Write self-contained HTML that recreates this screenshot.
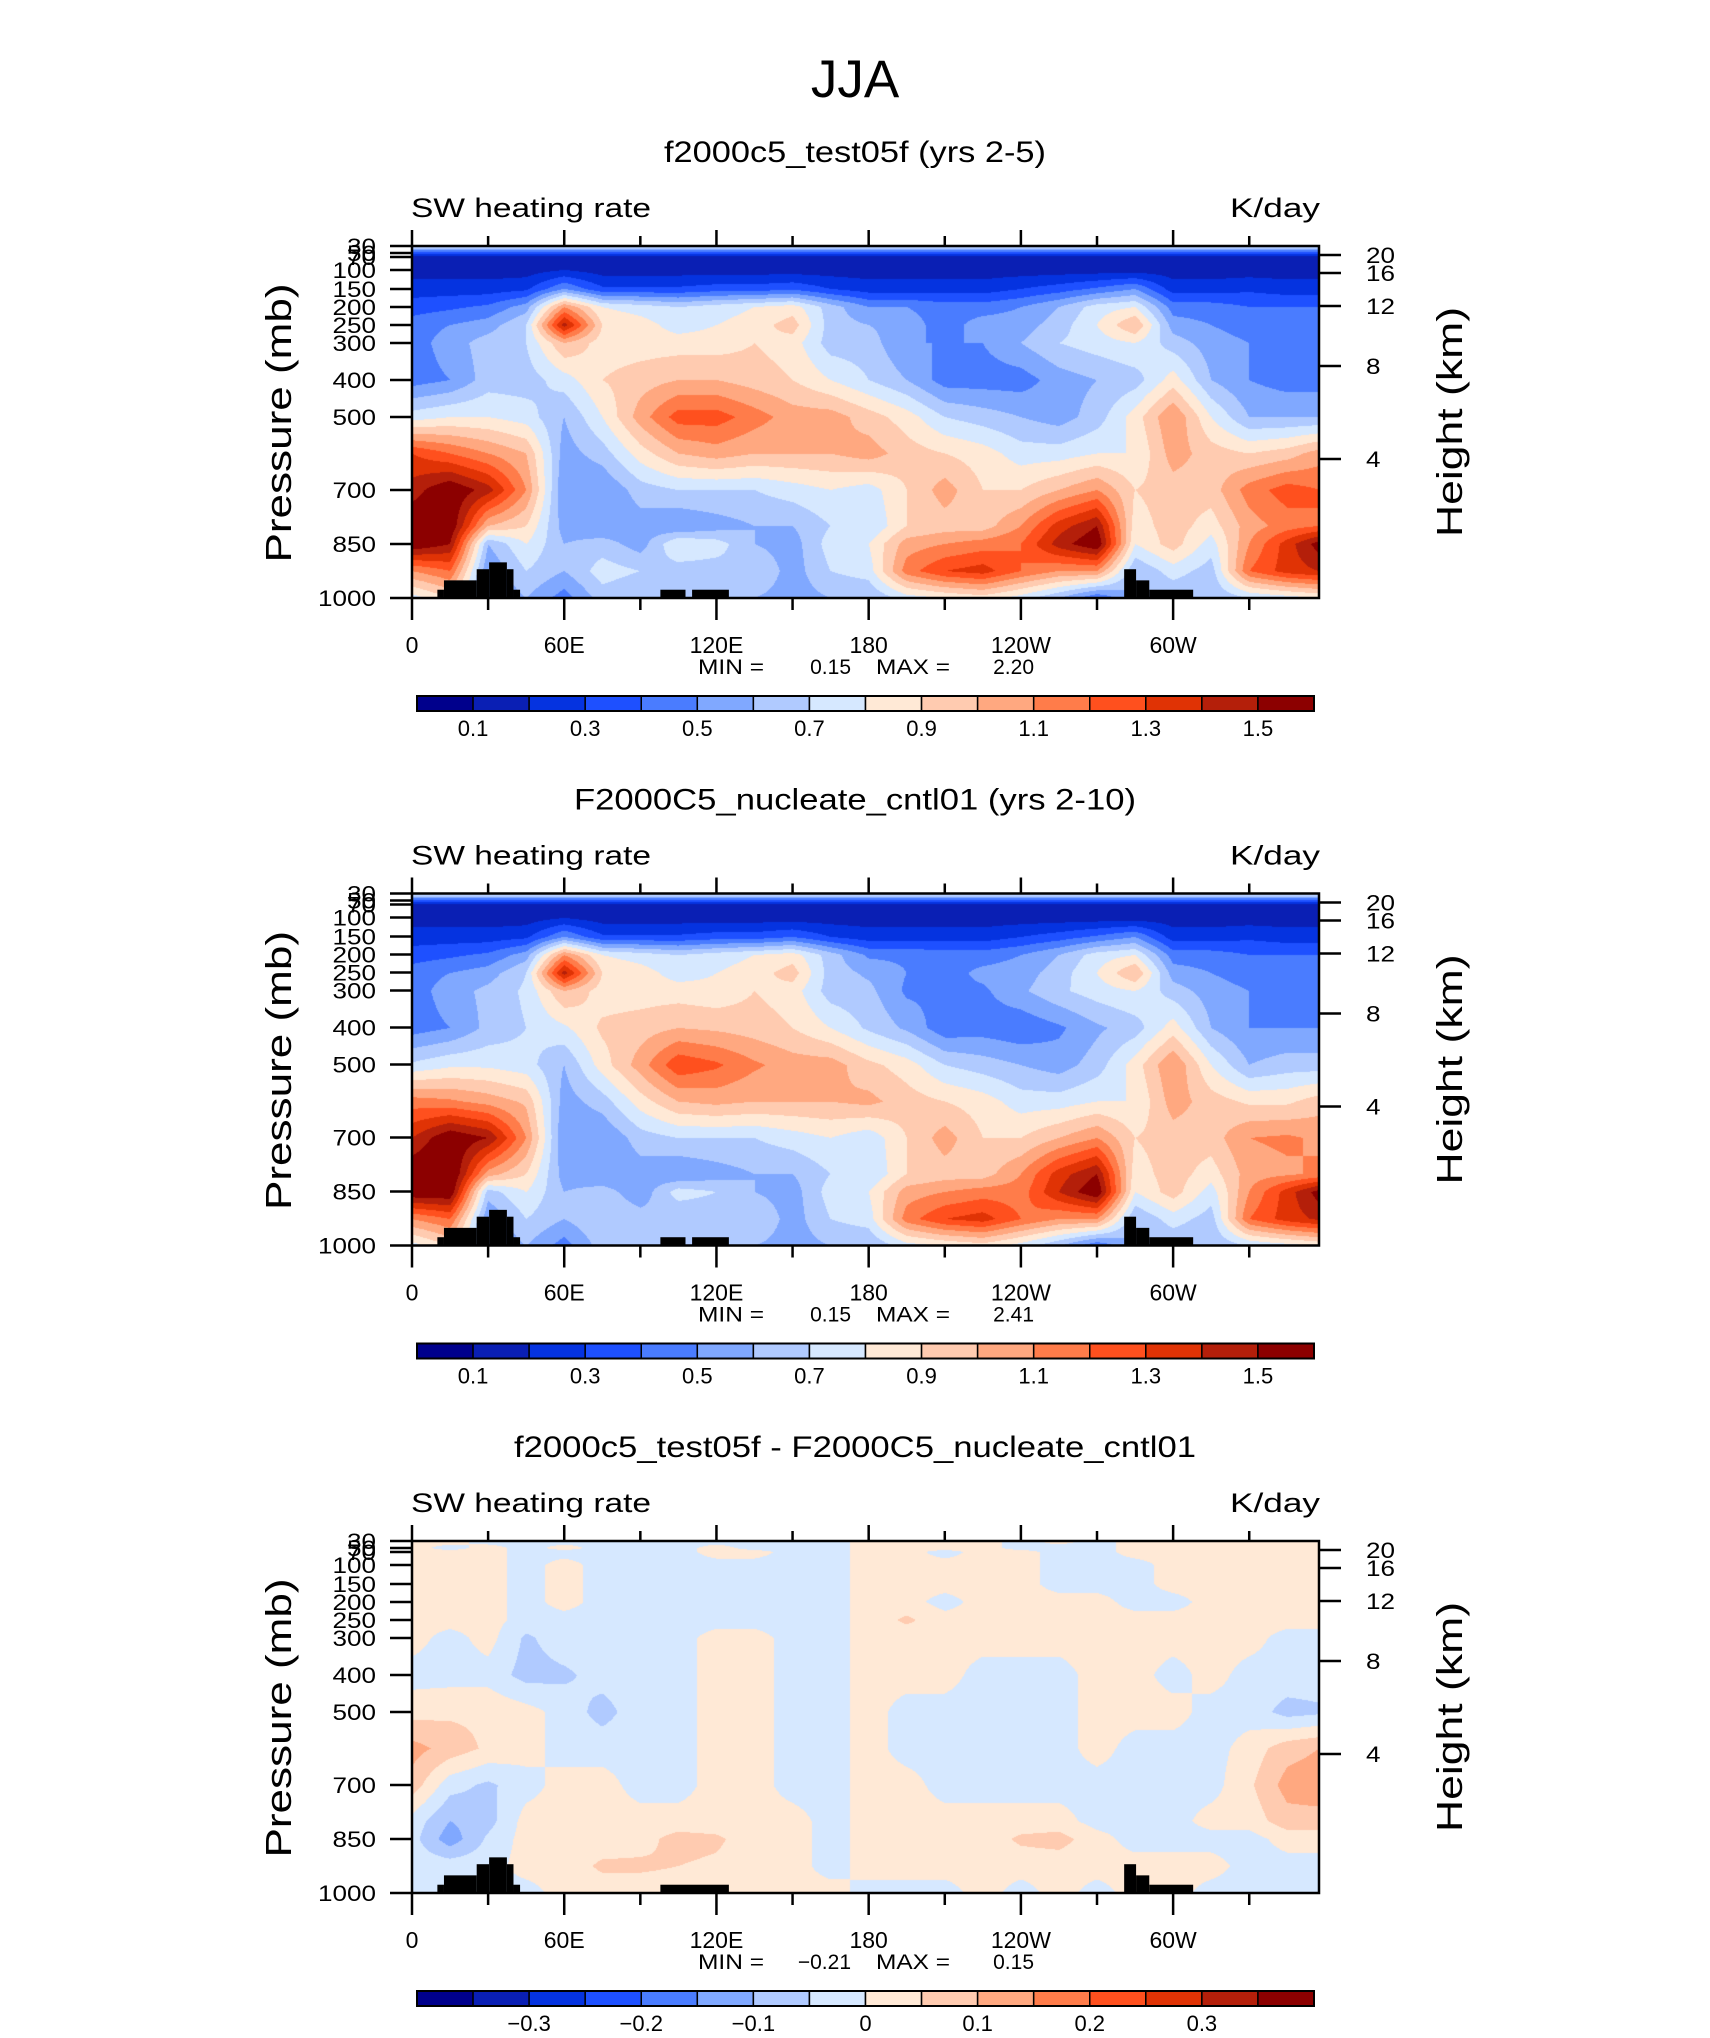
<!DOCTYPE html>
<html><head><meta charset="utf-8">
<style>
html,body{margin:0;padding:0;background:#fff;}
#wrap{position:relative;width:1710px;height:2038px;overflow:hidden;background:#fff;}
canvas{position:absolute;}
svg{position:absolute;left:0;top:0;}
text{font-family:"Liberation Sans",sans-serif;fill:#000;}
</style></head>
<body>
<div id="wrap">
<canvas id="c0"></canvas>
<canvas id="c1"></canvas>
<canvas id="c2"></canvas>
<svg id="svg" width="1710" height="2038"></svg>
</div>
<script>
// ---- data ----
const PRESSURE = [30,50,70,100,150,200,250,300,400,500,600,700,800,850,925,1000];
const LONS = [0,15,30,45,60,75,90,105,120,135,150,165,180,195,210,225,240,255,270,285,300,315,330,345,357.5];
// columns: one per longitude, values at PRESSURE levels (K/day)
const test05fCols = [
[.75,.35,.15,.15,.25,.35,.45,.45,.45,.75,1.3,1.45,1.6,1.6,1.1,.75],
[.75,.35,.15,.15,.25,.38,.5,.55,.5,.8,1.2,1.6,1.6,1.5,1.2,.9],
[.75,.35,.15,.15,.25,.42,.55,.65,.65,.8,1.1,1.45,1.0,.6,.5,.5],
[.75,.35,.15,.15,.28,.55,.7,.7,.65,.75,1.0,1.1,.9,.8,.7,.6],
[.75,.35,.15,.2,.5,1.1,1.45,1.0,.75,.6,.55,.5,.55,.6,.6,.45],
[.75,.35,.15,.15,.32,.8,.9,.85,.9,.8,.65,.5,.5,.65,.75,.65],
[.75,.35,.15,.15,.32,.75,.85,.85,.95,1.05,.85,.65,.55,.55,.7,.6],
[.75,.35,.15,.15,.32,.7,.75,.85,1.0,1.25,1.0,.7,.5,.8,.65,.6],
[.75,.35,.15,.15,.35,.75,.8,.85,1.0,1.25,1.05,.7,.55,.75,.65,.6],
[.75,.35,.15,.15,.35,.8,.85,.9,.95,1.15,1.0,.7,.6,.6,.7,.6],
[.75,.35,.15,.15,.38,.85,.95,.85,.9,1.05,1.0,.75,.6,.55,.55,.55],
[.75,.35,.15,.15,.3,.65,.65,.65,.8,1.05,1.0,.8,.7,.75,.7,.6],
[.75,.35,.15,.15,.25,.5,.6,.65,.7,.95,1.05,.75,.7,.8,.75,.6],
[.75,.35,.15,.15,.25,.5,.55,.5,.6,.85,.95,.9,.9,1.05,1.15,.75],
[.75,.35,.15,.15,.25,.45,.45,.5,.45,.7,.9,1.05,.95,1.1,1.3,.8],
[.75,.35,.15,.15,.25,.45,.55,.5,.45,.65,.85,.9,.95,1.15,1.35,.85],
[.75,.35,.15,.15,.3,.5,.55,.6,.45,.6,.75,.9,1.1,1.2,1.2,.75],
[.75,.35,.15,.15,.35,.6,.65,.7,.55,.55,.75,1.0,1.35,1.45,1.1,.6],
[.75,.35,.15,.15,.42,.75,.8,.75,.6,.65,.8,1.1,1.5,1.6,1.1,.4],
[.75,.35,.15,.15,.5,.8,1.0,.8,.65,.85,.8,.9,.85,.8,.6,.6],
[.75,.35,.15,.15,.25,.45,.55,.65,.85,1.1,1.05,.95,.95,.95,.75,.6],
[.75,.35,.15,.15,.25,.45,.5,.55,.6,.8,.95,.95,.85,.75,.65,.6],
[.75,.35,.15,.15,.28,.4,.45,.5,.5,.6,.9,1.15,1.05,1.1,1.2,.7],
[.75,.35,.15,.15,.25,.4,.45,.45,.45,.6,.95,1.25,1.15,1.35,1.35,.75],
[.75,.35,.15,.15,.25,.4,.45,.45,.45,.6,1.05,1.2,1.2,1.55,1.4,.8]
];
const cntl01Cols = [
[.75,.35,.15,.15,.25,.35,.45,.45,.45,.72,1.15,1.4,1.6,1.6,1.1,.75],
[.75,.35,.15,.15,.25,.38,.5,.55,.5,.78,1.12,1.6,1.65,1.6,1.2,.9],
[.75,.35,.15,.15,.25,.42,.55,.63,.63,.78,1.06,1.5,1.05,.65,.5,.5],
[.75,.35,.15,.15,.28,.55,.7,.72,.7,.74,.98,1.1,.9,.8,.7,.6],
[.75,.35,.15,.2,.5,1.1,1.45,1.0,.78,.6,.55,.5,.55,.6,.6,.45],
[.75,.35,.15,.15,.32,.8,.9,.85,.92,.85,.65,.5,.5,.65,.7,.65],
[.75,.35,.15,.15,.32,.75,.85,.85,.95,1.05,.85,.65,.55,.53,.65,.6],
[.75,.35,.15,.15,.32,.7,.75,.85,1.0,1.28,1.0,.7,.5,.75,.6,.6],
[.75,.35,.15,.15,.35,.75,.8,.83,.98,1.22,1.03,.7,.55,.7,.62,.6],
[.75,.35,.15,.15,.35,.8,.85,.9,.95,1.12,1.0,.7,.6,.6,.7,.6],
[.75,.35,.15,.15,.4,.85,.95,.85,.9,1.05,1.0,.75,.6,.55,.55,.55],
[.75,.35,.15,.15,.3,.65,.65,.65,.8,1.05,1.0,.8,.7,.75,.7,.6],
[.75,.35,.15,.15,.25,.48,.58,.63,.68,.93,1.03,.73,.7,.8,.75,.6],
[.75,.35,.15,.15,.25,.48,.5,.48,.58,.85,.95,.9,.9,1.05,1.15,.75],
[.75,.35,.15,.15,.25,.45,.45,.48,.43,.7,.9,1.05,.95,1.1,1.3,.8],
[.75,.35,.15,.15,.25,.45,.53,.48,.45,.65,.85,.9,.95,1.15,1.35,.85],
[.75,.35,.15,.15,.3,.5,.55,.58,.42,.6,.75,.9,1.1,1.15,1.2,.75],
[.75,.35,.15,.15,.35,.6,.65,.68,.48,.55,.75,1.0,1.35,1.4,1.1,.6],
[.75,.35,.15,.15,.42,.75,.8,.75,.58,.65,.8,1.1,1.5,1.6,1.1,.4],
[.75,.35,.15,.15,.5,.8,1.0,.8,.65,.85,.8,.9,.85,.8,.6,.6],
[.75,.35,.15,.15,.25,.45,.55,.65,.85,1.1,1.05,.95,.95,.95,.75,.6],
[.75,.35,.15,.15,.25,.45,.5,.55,.6,.8,.95,.95,.85,.75,.65,.6],
[.75,.35,.15,.15,.28,.4,.45,.5,.5,.6,.88,1.1,1.05,1.1,1.2,.7],
[.75,.35,.15,.15,.25,.4,.45,.45,.5,.65,.88,1.12,1.08,1.35,1.35,.75],
[.75,.35,.15,.15,.25,.4,.45,.45,.5,.65,.95,1.08,1.12,1.55,1.42,.8]
];
const diffCols = [
[.02,.02,.02,.02,.02,.02,.02,.02,-.02,.03,.12,.08,-.02,-.03,-.02,-.02],
[.02,-.02,.02,.02,.02,.02,.02,-.02,-.02,.04,.08,-.03,-.1,-.13,-.02,-.02],
[-.02,.02,.02,.02,.02,.02,.02,.02,-.02,.04,.04,-.06,-.07,-.04,-.02,-.02],
[-.02,-.02,-.02,-.02,-.02,-.02,-.02,-.06,-.07,.02,.02,-.02,.02,.02,.02,-.02],
[-.02,.02,-.02,.02,.02,.02,-.02,-.02,-.06,-.02,-.02,.02,.02,.02,.02,.02],
[-.02,-.02,-.02,-.02,-.02,-.02,-.02,-.02,-.03,-.07,-.02,.02,.02,.02,.06,.02],
[-.02,-.02,-.02,-.02,-.02,-.02,-.02,-.02,-.02,-.02,-.02,-.02,.02,.03,.06,.02],
[-.02,-.02,-.02,-.02,-.02,-.02,-.02,-.02,-.02,-.02,-.02,-.02,.02,.07,.05,.02],
[-.02,.02,.02,-.02,-.02,-.02,-.02,.02,.02,.02,.02,.02,.02,.06,.04,.02],
[-.02,-.02,.02,-.02,-.02,-.02,-.02,.02,.02,.02,.02,.02,.02,.02,.02,.02],
[-.02,-.02,-.02,-.02,-.03,-.03,-.02,-.02,-.02,-.02,-.02,-.02,.02,.02,.02,.02],
[-.02,-.02,-.02,-.02,-.02,-.02,-.02,-.02,-.02,-.02,-.02,-.02,-.02,-.02,-.02,.02],
[.02,.02,.02,.02,.02,.02,.02,.02,.02,.02,.02,.02,.02,.02,.02,-.02],
[.02,.02,.02,.02,.02,.02,.06,.02,.02,-.02,-.02,.02,.02,.02,.02,-.02],
[.02,.02,-.02,.02,.02,-.02,.02,.02,.02,-.02,-.02,-.02,.02,.02,.02,-.02],
[.02,.02,.02,.02,.02,.02,.02,.02,-.02,-.02,-.02,-.02,.02,.02,.02,.02],
[-.02,-.02,.02,.02,.02,.02,.02,.02,-.02,-.02,-.02,-.02,.02,.06,.02,-.02],
[.02,-.02,-.02,-.02,-.02,.02,.02,.02,-.02,-.02,-.02,-.02,.02,.07,.02,.02],
[-.02,-.02,-.02,-.02,-.02,.02,.02,.02,.02,.02,.02,-.02,-.02,.02,.02,-.02],
[.02,.02,.02,-.02,-.02,-.02,.02,.02,.02,.02,-.02,-.02,-.02,-.02,.02,.02],
[.02,.02,.02,.02,.02,-.02,.02,.02,-.02,.02,-.02,-.02,-.02,-.02,.02,.02],
[.02,.02,.02,.02,.02,.02,.02,.02,.02,-.02,-.02,-.02,.02,-.02,.02,-.02],
[.02,.02,.02,.02,.02,.02,.02,.02,-.02,-.02,.02,.04,.02,-.02,-.02,-.02],
[.02,.02,.02,.02,.02,.02,.02,-.02,-.02,-.07,.08,.12,.08,.02,-.02,-.02],
[.02,.02,.02,.02,.02,.02,.02,-.02,-.02,-.06,.1,.13,.08,.02,-.02,-.02]
];
// topography blocks: [lonStart, lonEnd, surface pressure top]
const topoA = [[10,12.6,977],[12.6,25.5,951],[25.5,30.4,920],[30.4,37.4,901],[37.4,40,920],[40,42.6,977],[97.9,107.8,977],[110.4,124.9,977],[280.7,285.4,920],[285.4,290.6,951],[290.6,307.9,977]];
const topoB = [[10,12.6,977],[12.6,25.5,951],[25.5,30.4,920],[30.4,37.4,901],[37.4,40,920],[40,42.6,977],[97.9,124.9,977],[280.7,285.4,920],[285.4,290.6,951],[290.6,307.9,977]];
const levelsAbs = [0.1,0.2,0.3,0.4,0.5,0.6,0.7,0.8,0.9,1.0,1.1,1.2,1.3,1.4,1.5];
const levelsDiff = [-0.35,-0.3,-0.25,-0.2,-0.15,-0.1,-0.05,0,0.05,0.1,0.15,0.2,0.25,0.3,0.35];
const cbLabelsAbs = ["0.1","0.3","0.5","0.7","0.9","1.1","1.3","1.5"];
const cbLabelsDiff = ["\u22120.3","\u22120.2","\u22120.1","0","0.1","0.2","0.3"];
const xTickLabels = ["0","60E","120E","180","120W","60W"];
const xTickLons = [0,60,120,180,240,300];
const pTickVals = [30,50,70,100,150,200,250,300,400,500,700,850,1000];
const hTickVals = [20,16,12,8,4];
const titles = ["f2000c5_test05f (yrs 2-5)","F2000C5_nucleate_cntl01 (yrs 2-10)","f2000c5_test05f - F2000C5_nucleate_cntl01"];
const minVals = ["0.15","0.15","\u22120.21"];
const maxVals = ["2.20","2.41","0.15"];

// ---- layout / axes ----
const PAL = ["#00008c","#0a1fb4","#0533e0","#1e50ff","#4a7cff","#80a8ff","#b0caff","#d6e8ff","#ffe9d6","#ffcbb0","#ffa880","#ff7c4a","#ff501e","#e03305","#b41f0a","#8c0000"];
const X0 = 412, X1 = 1319, W = X1 - X0, H = 352, LONMAX = 357.5;
const PANEL_TOPS = [246, 893.5, 1541];
const AX_P = [30,50,70,100,150,200,250,300,400,500,700,850,1000];
const AX_Y = [0,7,11,24,43,61,79,97,134,171,244,298,352];
const H_Y = {20:9,16:27,12:60,8:120,4:213};
function xOf(lon){ return X0 + lon / LONMAX * W; }
function yOf(p){
  for (let i=0;i<AX_P.length-1;i++){
    if (p<=AX_P[i+1]){ const t=(p-AX_P[i])/(AX_P[i+1]-AX_P[i]); return AX_Y[i]+t*(AX_Y[i+1]-AX_Y[i]); }
  }
  return H;
}
function colorIndex(v, lev){ let k=0; while(k<lev.length && v>=lev[k]-1e-9) k++; return k; }
function hex(c){ return [parseInt(c.substr(1,2),16),parseInt(c.substr(3,2),16),parseInt(c.substr(5,2),16)]; }
const PALRGB = PAL.map(hex);

function drawField(canvasId, cols, lev, top){
  const cv = document.getElementById(canvasId);
  cv.width = W; cv.height = Math.round(H);
  cv.style.left = X0+'px'; cv.style.top = top+'px';
  const ctx = cv.getContext('2d');
  const img = ctx.createImageData(cv.width, cv.height);
  const rowY = PRESSURE.map(yOf);
  const lonPx = LONS.map(l => l/LONMAX*W);
  for (let py=0; py<cv.height; py++){
    const yy = py+0.5;
    let i=0; while(i<rowY.length-2 && yy>rowY[i+1]) i++;
    let t=(yy-rowY[i])/(rowY[i+1]-rowY[i]); t=Math.max(0,Math.min(1,t));
    for (let px=0; px<cv.width; px++){
      const xx = px+0.5;
      let j=0; while(j<lonPx.length-2 && xx>lonPx[j+1]) j++;
      let s=(xx-lonPx[j])/(lonPx[j+1]-lonPx[j]); s=Math.max(0,Math.min(1,s));
      const a=cols[j][i], b=cols[j+1][i], c=cols[j][i+1], d=cols[j+1][i+1];
      const v=(a*(1-s)+b*s)*(1-t)+(c*(1-s)+d*s)*t;
      const rgb = PALRGB[colorIndex(v, lev)];
      const o=(py*cv.width+px)*4;
      img.data[o]=rgb[0]; img.data[o+1]=rgb[1]; img.data[o+2]=rgb[2]; img.data[o+3]=255;
    }
  }
  ctx.putImageData(img,0,0);
}

const NS = "http://www.w3.org/2000/svg";
const svg = document.getElementById('svg');
function el(tag, attrs, parent){
  const e = document.createElementNS(NS, tag);
  for (const k in attrs) e.setAttribute(k, attrs[k]);
  (parent||svg).appendChild(e);
  return e;
}
function txt(str, attrs, parent){ const e = el('text', attrs, parent); e.textContent = str; return e; }

// main title
const mt = txt("JJA", {x:855, y:97, 'font-size':53, 'text-anchor':'middle', fill:'#111'});



const fields = [test05fCols, cntl01Cols, diffCols];
const topos = [topoA, topoA, topoB];
const levs = [levelsAbs, levelsAbs, levelsDiff];
const cbl = [cbLabelsAbs, cbLabelsAbs, cbLabelsDiff];
const cbLabelStart = [1, 1, 2];
const titleW = [382, 562, 682];

for (let k=0;k<3;k++){
  const top = PANEL_TOPS[k];
  const off = top - 246;
  drawField('c'+k, fields[k], levs[k], top);
  const g = el('g', {});
  
  
  const tt = txt(titles[k], {x:855, y:162+off, 'font-size':30, 'text-anchor':'middle', textLength:titleW[k], lengthAdjust:'spacingAndGlyphs'}, g);
  
  
  const lt = txt("SW heating rate", {x:411, y:217+off, 'font-size':27, textLength:240, lengthAdjust:'spacingAndGlyphs'}, g);
  
  
  const ut = txt("K/day", {x:1320, y:217+off, 'font-size':27, 'text-anchor':'end', textLength:90, lengthAdjust:'spacingAndGlyphs'}, g);
  
  
  for (const tb of topos[k]){
    const r = el('rect', {x:xOf(tb[0]), y:top+yOf(tb[2]), width:xOf(tb[1])-xOf(tb[0]), height:H-yOf(tb[2]), fill:'#000'}, g);
    
    
  }
  const fr = el('rect', {x:X0, y:top, width:W, height:H, fill:'none', stroke:'#000', 'stroke-width':2.5}, g);
  
  
  for (let lon=0; lon<=330; lon+=30){
    const major = lon%60===0;
    const x = xOf(lon);
    el('line',{x1:x,y1:top,x2:x,y2:top-(major?16:10),stroke:'#000','stroke-width':2.5},g);
    el('line',{x1:x,y1:top+H,x2:x,y2:top+H+(major?22:12),stroke:'#000','stroke-width':2.5},g);
  }
  for (let i=0;i<xTickLabels.length;i++){
    const xl = txt(xTickLabels[i], {x:xOf(xTickLons[i]), y:top+H+55, 'font-size':23, 'text-anchor':'middle'}, g);
    
    
  }
  for (const p of pTickVals){
    const y = top+yOf(p);
    el('line',{x1:X0-22,y1:y,x2:X0,y2:y,stroke:'#000','stroke-width':2.5},g);
    const s = String(p);
    const pl = txt(s,{x:376,y:y+8,'font-size':22,'text-anchor':'end',textLength:s.length*14.5,lengthAdjust:'spacingAndGlyphs'},g);
    
    
  }
  for (const h of hTickVals){
    const y = top+H_Y[h];
    el('line',{x1:X1,y1:y,x2:X1+22,y2:y,stroke:'#000','stroke-width':2.5},g);
    const s = String(h);
    const hl = txt(s,{x:1366,y:y+8,'font-size':22,textLength:s.length*14.5,lengthAdjust:'spacingAndGlyphs'},g);
    
    
  }
  const ya = txt("Pressure (mb)",{x:0,y:0,'font-size':36,'text-anchor':'middle',textLength:279,lengthAdjust:'spacingAndGlyphs',transform:`translate(291,${423+off}) rotate(-90)`},g);
  
  
  const ya2 = txt("Height (km)",{x:0,y:0,'font-size':36,'text-anchor':'middle',textLength:230,lengthAdjust:'spacingAndGlyphs',transform:`translate(1462,${422+off}) rotate(-90)`},g);
  
  
  const m1 = txt("MIN =",{x:698,y:674+off,'font-size':21,textLength:66,lengthAdjust:'spacingAndGlyphs'},g);
  
  
  const m2 = txt(minVals[k],{x:851,y:674+off,'font-size':21,'text-anchor':'end'},g);
  
  
  const m3 = txt("MAX =",{x:876,y:674+off,'font-size':21,textLength:74,lengthAdjust:'spacingAndGlyphs'},g);
  
  
  const m4 = txt(maxVals[k],{x:1034,y:674+off,'font-size':21,'text-anchor':'end'},g);
  
  
  const cb = el('g',{},g);
  
  
  const cbx=417, cbw=897/16, cby=696+off;
  for (let i=0;i<16;i++){
    const r = el('rect',{x:cbx+i*cbw,y:cby,width:cbw,height:15,fill:PAL[i],stroke:'#000','stroke-width':1.5},cb);
    
    
  }
  el('rect',{x:cbx,y:cby,width:897,height:15,fill:'none',stroke:'#000','stroke-width':2},cb);
  for (let i=0;i<cbl[k].length;i++){
    const b = cbLabelStart[k]+2*i;
    const cl = txt(cbl[k][i],{x:cbx+b*cbw,y:cby+40,'font-size':22,'text-anchor':'middle'},cb);
    
    
  }
}
</script>
</body></html>
